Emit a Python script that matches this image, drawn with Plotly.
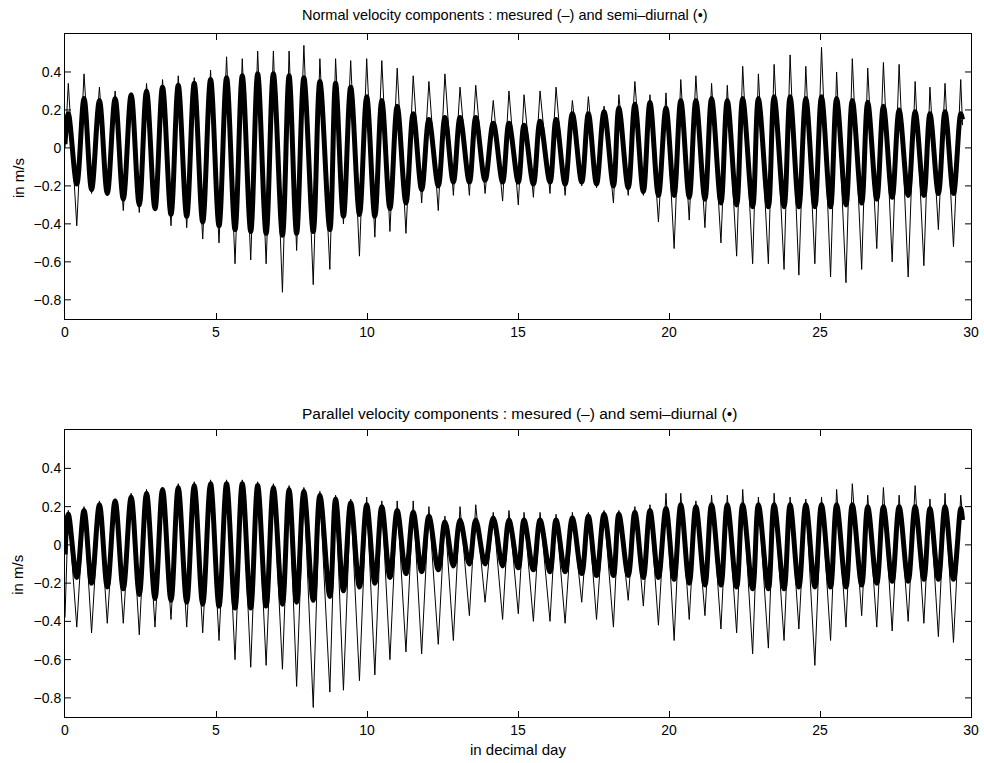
import plotly.graph_objects as go
from plotly.subplots import make_subplots

# ---- times (decimal day) of the extremes ----
peak_day = [0.11, 0.63, 1.14, 1.66, 2.19, 2.70, 3.23, 3.75, 4.28, 4.82,
            5.35, 5.87, 6.38, 6.90, 7.42, 7.91, 8.44, 8.96, 9.46, 9.99,
            10.49, 11.00, 11.53, 12.05, 12.58, 13.08, 13.60, 14.18, 14.70, 15.20,
            15.73, 16.26, 16.80, 17.33, 17.85, 18.34, 18.87, 19.37, 19.90, 20.39,
            20.89, 21.41, 21.93, 22.44, 22.96, 23.48, 24.01, 24.53, 25.05, 25.55,
            26.07, 26.58, 27.10, 27.62, 28.15, 28.64, 29.14, 29.66]
trough_day = [0.39, 0.88, 1.40, 1.93, 2.46, 2.98, 3.51, 4.03, 4.56, 5.10,
              5.63, 6.15, 6.66, 7.20, 7.67, 8.22, 8.77, 9.22, 9.75, 10.26,
              10.76, 11.29, 11.81, 12.36, 12.86, 13.39, 13.91, 14.49, 15.01, 15.51,
              16.06, 16.56, 17.11, 17.60, 18.16, 18.65, 19.15, 19.65, 20.17, 20.67,
              21.19, 21.72, 22.24, 22.77, 23.29, 23.81, 24.30, 24.83, 25.35, 25.86,
              26.38, 26.88, 27.39, 27.92, 28.44, 28.92, 29.42]
start_day = 0.0
end_day = 29.72

# ---- Normal component (top panel) ----
normal_meas_peak = [0.34, 0.39, 0.32, 0.30, 0.28, 0.34, 0.36, 0.38, 0.37, 0.41,
                    0.48, 0.47, 0.51, 0.51, 0.51, 0.54, 0.47, 0.47, 0.46, 0.47,
                    0.46, 0.42, 0.38, 0.35, 0.39, 0.32, 0.33, 0.25, 0.30, 0.28,
                    0.30, 0.32, 0.25, 0.27, 0.22, 0.28, 0.35, 0.28, 0.29, 0.36,
                    0.38, 0.34, 0.33, 0.43, 0.39, 0.44, 0.49, 0.43, 0.53, 0.40,
                    0.47, 0.42, 0.45, 0.44, 0.35, 0.32, 0.34, 0.36]
normal_meas_trough = [-0.41, -0.24, -0.25, -0.33, -0.34, -0.32, -0.41, -0.42, -0.48, -0.50,
                      -0.61, -0.59, -0.61, -0.76, -0.54, -0.72, -0.64, -0.40, -0.57, -0.47,
                      -0.44, -0.45, -0.29, -0.33, -0.25, -0.25, -0.24, -0.28, -0.30, -0.26,
                      -0.24, -0.25, -0.20, -0.21, -0.29, -0.25, -0.25, -0.39, -0.53, -0.38,
                      -0.42, -0.50, -0.57, -0.61, -0.61, -0.64, -0.67, -0.61, -0.68, -0.71,
                      -0.64, -0.53, -0.60, -0.68, -0.62, -0.43, -0.52]
normal_semi_peak = [0.18, 0.26, 0.25, 0.26, 0.28, 0.30, 0.32, 0.33, 0.34, 0.36,
                    0.37, 0.38, 0.39, 0.39, 0.38, 0.37, 0.35, 0.34, 0.32, 0.27,
                    0.25, 0.22, 0.18, 0.15, 0.16, 0.16, 0.16, 0.13, 0.13, 0.12,
                    0.14, 0.15, 0.18, 0.18, 0.19, 0.21, 0.23, 0.24, 0.21, 0.25,
                    0.25, 0.26, 0.25, 0.26, 0.26, 0.27, 0.27, 0.26, 0.27, 0.26,
                    0.25, 0.24, 0.22, 0.20, 0.19, 0.18, 0.19, 0.18]
normal_semi_trough = [-0.19, -0.22, -0.24, -0.27, -0.30, -0.32, -0.35, -0.36, -0.39, -0.41,
                      -0.43, -0.44, -0.45, -0.46, -0.45, -0.44, -0.43, -0.36, -0.35, -0.36,
                      -0.32, -0.29, -0.22, -0.20, -0.18, -0.18, -0.17, -0.18, -0.18, -0.19,
                      -0.18, -0.19, -0.18, -0.19, -0.20, -0.21, -0.23, -0.25, -0.25, -0.26,
                      -0.27, -0.29, -0.30, -0.31, -0.31, -0.31, -0.31, -0.31, -0.31, -0.30,
                      -0.29, -0.27, -0.26, -0.25, -0.25, -0.24, -0.24]
normal_meas_ends = [0.00, 0.12]
normal_semi_ends = [0.02, 0.15]

# ---- Parallel component (bottom panel) ----
parallel_meas_peak = [0.18, 0.20, 0.23, 0.24, 0.27, 0.29, 0.30, 0.32, 0.33, 0.34,
                      0.34, 0.34, 0.33, 0.32, 0.31, 0.30, 0.28, 0.26, 0.24, 0.25,
                      0.23, 0.23, 0.23, 0.20, 0.15, 0.20, 0.21, 0.17, 0.18, 0.17,
                      0.17, 0.16, 0.17, 0.17, 0.18, 0.18, 0.20, 0.21, 0.27, 0.27,
                      0.23, 0.26, 0.26, 0.29, 0.25, 0.27, 0.25, 0.24, 0.25, 0.29,
                      0.32, 0.26, 0.30, 0.26, 0.31, 0.24, 0.27, 0.26]
parallel_meas_trough = [-0.43, -0.46, -0.41, -0.41, -0.47, -0.43, -0.39, -0.43, -0.46, -0.50,
                        -0.60, -0.64, -0.63, -0.65, -0.74, -0.85, -0.77, -0.76, -0.71, -0.68,
                        -0.60, -0.56, -0.57, -0.52, -0.50, -0.37, -0.30, -0.39, -0.36, -0.40,
                        -0.40, -0.41, -0.30, -0.39, -0.43, -0.29, -0.32, -0.42, -0.50, -0.39,
                        -0.37, -0.44, -0.46, -0.57, -0.54, -0.50, -0.44, -0.63, -0.50, -0.43,
                        -0.37, -0.43, -0.45, -0.40, -0.41, -0.48, -0.51]
parallel_semi_peak = [0.16, 0.18, 0.21, 0.23, 0.25, 0.27, 0.29, 0.30, 0.31, 0.32,
                      0.32, 0.32, 0.31, 0.30, 0.29, 0.28, 0.26, 0.24, 0.22, 0.21,
                      0.20, 0.18, 0.17, 0.15, 0.12, 0.13, 0.13, 0.14, 0.13, 0.13,
                      0.13, 0.13, 0.14, 0.15, 0.16, 0.16, 0.17, 0.18, 0.19, 0.21,
                      0.20, 0.21, 0.21, 0.21, 0.21, 0.21, 0.21, 0.21, 0.21, 0.21,
                      0.21, 0.20, 0.20, 0.20, 0.20, 0.19, 0.20, 0.19]
parallel_semi_trough = [-0.17, -0.20, -0.22, -0.23, -0.26, -0.28, -0.29, -0.30, -0.31, -0.32,
                        -0.33, -0.33, -0.32, -0.31, -0.30, -0.29, -0.27, -0.24, -0.22, -0.20,
                        -0.17, -0.15, -0.14, -0.13, -0.11, -0.10, -0.10, -0.11, -0.12, -0.13,
                        -0.14, -0.14, -0.15, -0.16, -0.16, -0.16, -0.17, -0.17, -0.18, -0.20,
                        -0.21, -0.21, -0.22, -0.23, -0.23, -0.23, -0.22, -0.22, -0.22, -0.22,
                        -0.21, -0.20, -0.19, -0.19, -0.18, -0.18, -0.18]
parallel_meas_ends = [-0.38, 0.15]
parallel_semi_ends = [-0.05, 0.13]

x_ticks = [0, 5, 10, 15, 20, 25, 30]
y_ticks = [-0.8, -0.6, -0.4, -0.2, 0, 0.2, 0.4]
y_tick_text = ["\u22120.8", "\u22120.6", "\u22120.4", "\u22120.2", "0", "0.2", "0.4"]

title_top = "Normal velocity components : mesured (\u2013) and semi\u2013diurnal (\u2022)"
title_bot = "Parallel velocity components : mesured (\u2013) and semi\u2013diurnal (\u2022)"


def series(peaks, troughs, ends):
    xs, ys = [start_day], [ends[0]]
    for i, (tp, vp) in enumerate(zip(peak_day, peaks)):
        xs.append(tp)
        ys.append(vp)
        if i < len(troughs):
            xs.append(trough_day[i])
            ys.append(troughs[i])
    xs.append(end_day)
    ys.append(ends[1])
    return xs, ys


fig = make_subplots(rows=2, cols=1, vertical_spacing=0.1)

panels = [
    (1, normal_meas_peak, normal_meas_trough, normal_meas_ends,
     normal_semi_peak, normal_semi_trough, normal_semi_ends),
    (2, parallel_meas_peak, parallel_meas_trough, parallel_meas_ends,
     parallel_semi_peak, parallel_semi_trough, parallel_semi_ends),
]
for row, mp, mt, me, sp, st, se in panels:
    xs, ys = series(sp, st, se)
    fig.add_trace(go.Scatter(x=xs, y=ys, mode="lines",
                             line=dict(color="black", width=5, shape="spline", smoothing=1.0),
                             showlegend=False, hoverinfo="skip"), row=row, col=1)
    xm, ym = series(mp, mt, me)
    fig.add_trace(go.Scatter(x=xm, y=ym, mode="lines",
                             line=dict(color="black", width=1),
                             showlegend=False, hoverinfo="skip"), row=row, col=1)

tick_font = dict(family="Liberation Sans", size=14, color="black")
common = dict(showline=True, linecolor="black", linewidth=1, showgrid=False,
              zeroline=False, tickfont=tick_font, automargin=False)

for r in (1, 2):
    fig.update_xaxes(range=[0, 30], tickvals=x_ticks, mirror="ticks",
                     ticks="inside", ticklen=6, tickcolor="black",
                     row=r, col=1, **common)
    fig.update_yaxes(range=[-0.9, 0.6], tickvals=y_ticks, ticktext=y_tick_text,
                     mirror=True, ticks="outside", ticklen=0,
                     row=r, col=1, **common)

# inward y tick marks on the left and right frame edges
TICK_FRAC = 6 / 906
for r, yref in ((1, "y"), (2, "y2")):
    xdom = "x domain" if r == 1 else "x2 domain"
    for v in y_ticks:
        for x0, x1 in ((0, TICK_FRAC), (1 - TICK_FRAC, 1)):
            fig.add_shape(type="line", xref=xdom, yref=yref, x0=x0, x1=x1, y0=v, y1=v,
                          line=dict(color="black", width=1), layer="above")

fig.update_layout(
    width=984, height=763,
    margin=dict(l=65, r=13, t=34, b=46),
    paper_bgcolor="white", plot_bgcolor="white",
    xaxis=dict(domain=[0, 1]), yaxis=dict(domain=[0.583, 1.0]),
    xaxis2=dict(domain=[0, 1]), yaxis2=dict(domain=[0.0, 0.42]),
    font=dict(family="Liberation Sans", size=14, color="black"),
)

label_font = dict(family="Liberation Sans", size=15, color="black")
fig.add_annotation(text=title_top, x=0.486, y=1.028, xref="paper", yref="paper",
                   showarrow=False, font=dict(family="Liberation Sans", size=14.5, color="black"),
                   xanchor="center", yanchor="middle")
fig.add_annotation(text=title_bot, x=0.502, y=0.445, xref="paper", yref="paper",
                   showarrow=False, font=dict(family="Liberation Sans", size=15.5, color="black"),
                   xanchor="center", yanchor="middle")
fig.add_annotation(text="in decimal day", x=0.5, y=-0.048, xref="paper", yref="paper",
                   showarrow=False, font=label_font, xanchor="center", yanchor="middle")
fig.add_annotation(text="in m/s", x=-0.052, y=0.789, xref="paper", yref="paper",
                   showarrow=False, font=label_font, textangle=-90,
                   xanchor="center", yanchor="middle")
fig.add_annotation(text="in m/s", x=-0.052, y=0.208, xref="paper", yref="paper",
                   showarrow=False, font=label_font, textangle=-90,
                   xanchor="center", yanchor="middle")

fig.write_html("out.html", config={"displayModeBar": False},
               post_script="document.body.style.margin='0';document.body.style.padding='0';")
